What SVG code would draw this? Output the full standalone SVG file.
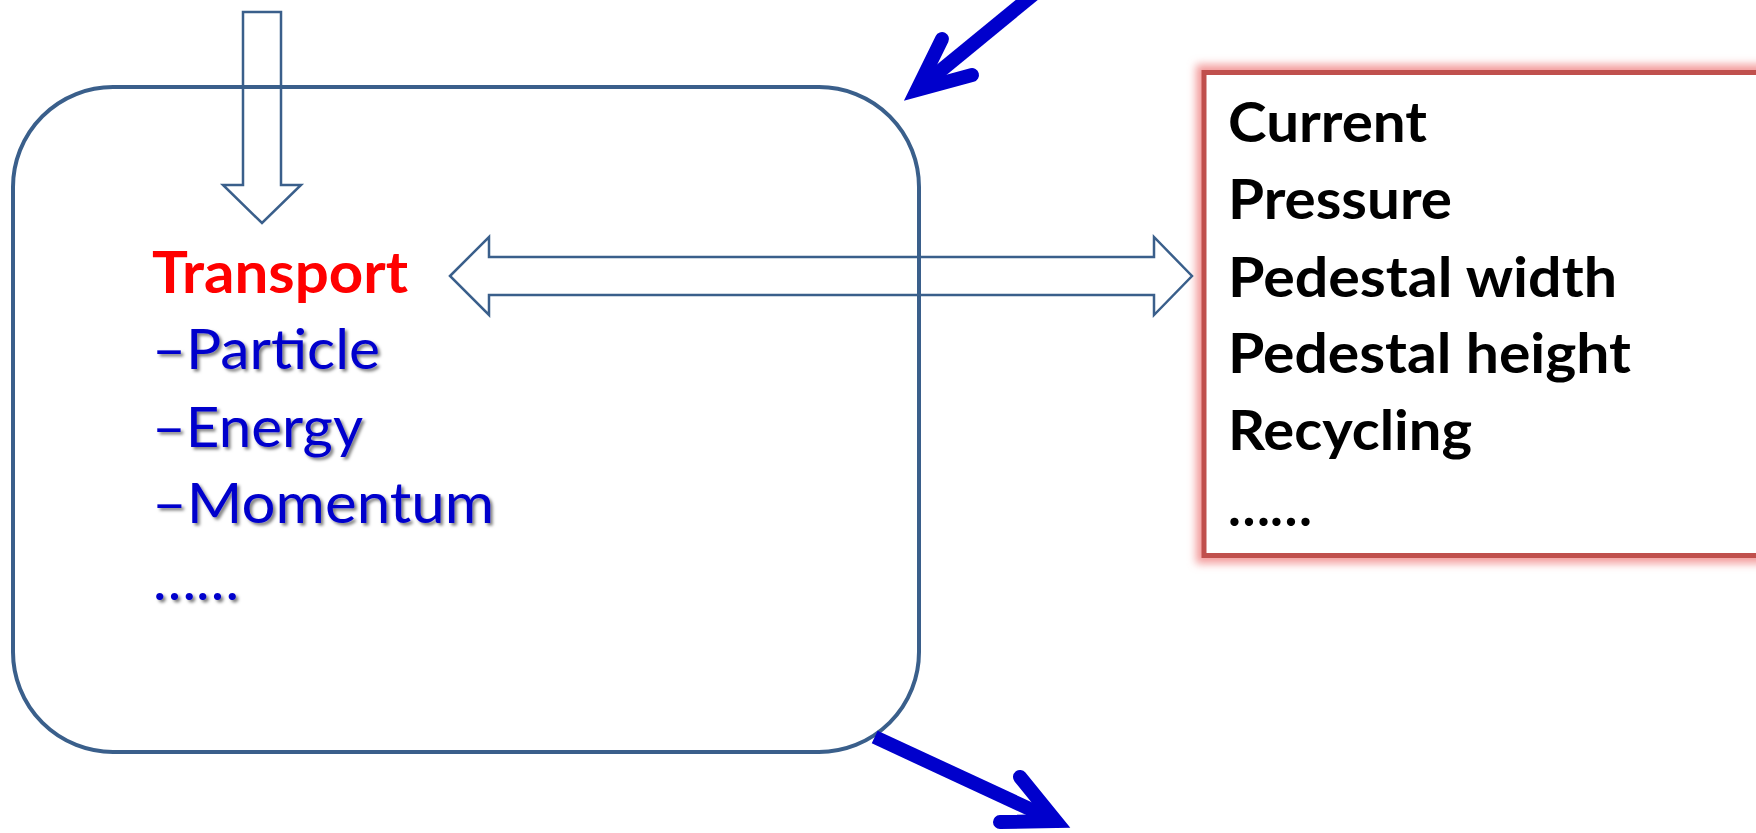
<svg xmlns="http://www.w3.org/2000/svg" width="1756" height="833" viewBox="0 0 1756 833">
<defs>
<filter id="shadow" x="-10%" y="-30%" width="130%" height="170%">
<feDropShadow dx="2.5" dy="2.5" stdDeviation="1.6" flood-color="#000" flood-opacity="0.5"/>
</filter>
<filter id="glow" x="-10%" y="-10%" width="120%" height="120%">
<feGaussianBlur stdDeviation="4"/>
</filter>
</defs>
<style>
.outline{fill:none;stroke:#3A5F8B;stroke-width:2.5;stroke-linejoin:miter}
.bluearrow{fill:none;stroke:#0000CC;stroke-width:14;stroke-linecap:round;stroke-linejoin:miter;stroke-miterlimit:10}
.shaft{fill:none;stroke:#0000CC;stroke-width:14;stroke-linecap:butt}
.blue{font-family:Lato,"Open Sans","Liberation Sans",sans-serif;font-size:57px;fill:#0000CC}
.red{font-family:Lato,"Open Sans","Liberation Sans",sans-serif;font-size:58px;font-weight:bold;fill:#FF0000}
.black{font-family:Lato,"Open Sans","Liberation Sans",sans-serif;font-size:56px;font-weight:bold;fill:#000}
</style>
<rect width="1756" height="833" fill="#fff"/>

<g id="transport-box">
<rect x="13" y="87" width="906" height="665" rx="100" ry="100" fill="none" stroke="#3A5F8B" stroke-width="4"/>
<text class="red" x="152" y="293" textLength="256" lengthAdjust="spacingAndGlyphs">Transport</text>
<g filter="url(#shadow)">
<text class="blue" x="152" y="369" textLength="228" lengthAdjust="spacingAndGlyphs">–Particle</text>
<text class="blue" x="152" y="447" textLength="211" lengthAdjust="spacingAndGlyphs">–Energy</text>
<text class="blue" x="152" y="523" textLength="342" lengthAdjust="spacingAndGlyphs">–Momentum</text>
<text class="blue" x="153" y="600" textLength="86" lengthAdjust="spacingAndGlyphs">……</text>
</g>
</g>

<g id="parameter-box">
<rect x="1204" y="72.5" width="600" height="483" fill="none" stroke="#F39B9B" stroke-width="16" filter="url(#glow)"/>
<rect x="1204" y="72.5" width="600" height="483" fill="#fff" stroke="#C0504D" stroke-width="5"/>
<text class="black" x="1228" y="142" textLength="199" lengthAdjust="spacingAndGlyphs">Current</text>
<text class="black" x="1228" y="219" textLength="224" lengthAdjust="spacingAndGlyphs">Pressure</text>
<text class="black" x="1228" y="297" textLength="389" lengthAdjust="spacingAndGlyphs">Pedestal width</text>
<text class="black" x="1228" y="373" textLength="403" lengthAdjust="spacingAndGlyphs">Pedestal height</text>
<text class="black" x="1228" y="450" textLength="244" lengthAdjust="spacingAndGlyphs">Recycling</text>
<text class="black" x="1228" y="526" textLength="84" lengthAdjust="spacingAndGlyphs">……</text>
</g>

<g id="connectors">
<polygon class="outline" points="243,12 281,12 281,185 301,185 262,223 223,185 243,185"/>
<polygon class="outline" points="450,276 489,237 489,257 1154,257 1154,237 1192,276 1154,315 1154,295 489,295 489,315"/>
<line class="shaft" x1="1045" y1="-15" x2="917" y2="90"/>
<polyline class="bluearrow" points="942,39 917,90 972,75"/>
<line class="shaft" x1="874.7" y1="737" x2="1055" y2="820.7"/>
<polyline class="bluearrow" points="1020,777 1055.8,821 1000,822"/>
</g>
</svg>
